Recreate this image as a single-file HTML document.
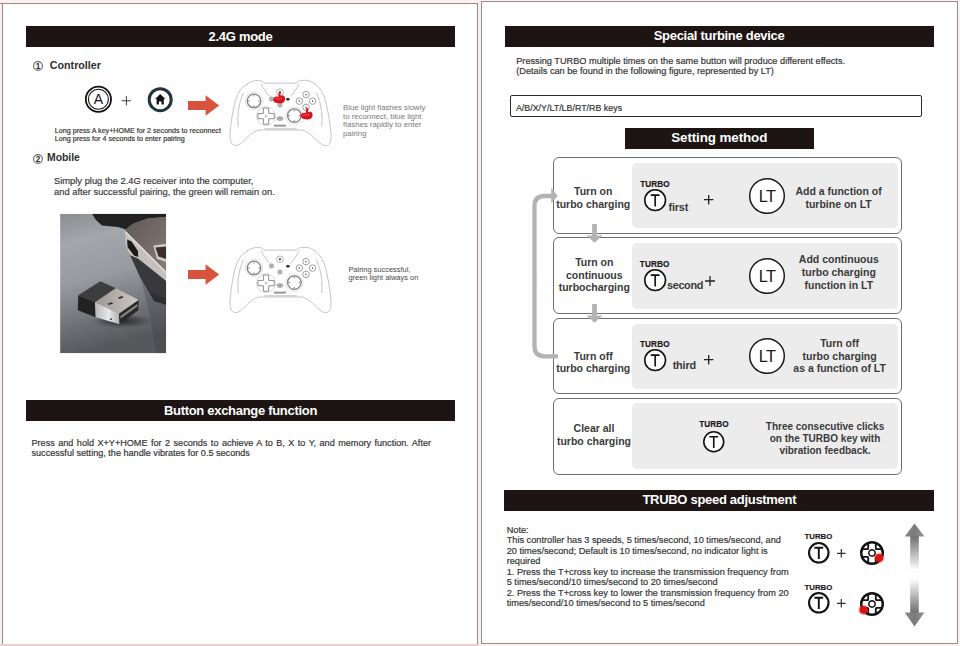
<!DOCTYPE html>
<html><head><meta charset="utf-8">
<style>
*{margin:0;padding:0;box-sizing:border-box}
html,body{width:960px;height:646px;overflow:hidden;background:#fcf0f0}
body{position:relative;font-family:"Liberation Sans",sans-serif;color:#333}
.a{position:absolute;white-space:nowrap}
.tk{-webkit-text-stroke:0.18px currentColor}
.bar{position:absolute;background:#1d1514;color:#fff;font-weight:bold;font-size:13px;letter-spacing:-0.3px;text-align:center}
.box{position:absolute;border:1.5px solid #6e6e6e;border-radius:6px;background:#fff}
.panel{position:absolute;background:#ececec;border-radius:5px}
svg{position:absolute;overflow:visible}
</style></head><body>

<div style="position:absolute;left:0;top:643.8px;width:479px;height:3px;background:#e9cdd2"></div>
<div style="position:absolute;left:0;top:2.7px;width:4px;height:1.4px;background:#978a8d"></div><div style="position:absolute;left:2.3px;top:2.65px;width:476px;height:641.7px;background:#fefefe;border:1.5px solid #978a8d;border-bottom:none"></div>
<div style="position:absolute;left:481.4px;top:1.2px;width:476.3px;height:643px;background:#fefefe;border:1.5px solid #978a8d"></div>
<div class="bar" style="left:26px;top:26px;width:429px;height:21px;line-height:21.00px;font-size:13px;letter-spacing:-0.3px">2.4G mode</div>
<svg style="left:33.4px;top:61.0px" width="10" height="10" viewBox="0 0 10 10"><circle cx="5.0" cy="5.0" r="4.4" fill="none" stroke="#6a6a6a" stroke-width="1.1"/><text x="5.0" y="7.9" font-family="Liberation Sans" font-weight="bold" font-size="8.2" text-anchor="middle" fill="#2a2a2a">1</text></svg>
<div class="a " style="left:49.80px;top:59.20px;font-size:10.7px;line-height:12.84px;color:#2e2e2e;font-weight:bold;">Controller</div>
<svg style="left:80px;top:82px" width="100" height="36" viewBox="0 0 100 36"><circle cx="18.4" cy="17.3" r="12.6" fill="none" stroke="#111" stroke-width="1.8"/><circle cx="18.4" cy="17.3" r="10.0" fill="none" stroke="#111" stroke-width="1.1"/><text x="18.4" y="22.4" font-family="Liberation Sans" font-size="14" text-anchor="middle" fill="#111">A</text><path d="M41.7 18.75h9.4M46.4 14.05v9.4" stroke="#444" stroke-width="1"/><circle cx="80.2" cy="17.7" r="11.0" fill="#fff" stroke="#22343f" stroke-width="3"/><path d="M80.2 11.9 L85.3 16.9 L83.8 16.9 L83.8 22.5 L81.5 22.5 L81.5 19.6 L78.9 19.6 L78.9 22.5 L76.6 22.5 L76.6 16.9 L75.1 16.9 Z" fill="#111"/></svg>
<svg style="left:188px;top:95.1px" width="33" height="21" viewBox="0 0 33 21"><path d="M0 6.1 H17.6 V0.3 L31.2 10.5 L17.6 20.7 V14.9 H0 Z" fill="#d9533c"/></svg>
<div class="a tk" style="left:54.80px;top:128.40px;font-size:7.15px;line-height:7.7px;color:#333;">Long press A key+HOME for 2 seconds to reconnect<br>Long press for 4 seconds to enter pairing</div>
<div class="a " style="left:343.00px;top:103.80px;font-size:7.8px;line-height:8.7px;color:#7a7a7a;">Blue light flashes slowly<br>to reconnect, blue light<br>flashes rapidly to enter<br>pairing</div>
<svg style="left:33.0px;top:153.6px" width="10" height="10" viewBox="0 0 10 10"><circle cx="5.0" cy="5.0" r="4.4" fill="none" stroke="#6a6a6a" stroke-width="1.1"/><text x="5.0" y="7.9" font-family="Liberation Sans" font-weight="bold" font-size="8.2" text-anchor="middle" fill="#2a2a2a">2</text></svg>
<div class="a " style="left:47.00px;top:152.20px;font-size:10.4px;line-height:12.48px;color:#2e2e2e;font-weight:bold;">Mobile</div>
<div class="a tk" style="left:54.00px;top:175.80px;font-size:9.35px;line-height:10.8px;color:#3a3a3a;">Simply plug the 2.4G receiver into the computer,<br>and after successful pairing, the green will remain on.</div>
<svg style="left:188px;top:264.0px" width="33" height="21" viewBox="0 0 33 21"><path d="M0 6.1 H17.6 V0.3 L31.2 10.5 L17.6 20.7 V14.9 H0 Z" fill="#d9533c"/></svg>
<div class="a " style="left:348.40px;top:265.70px;font-size:7.45px;line-height:8.2px;color:#4a4a4a;">Pairing successful,<br>green light always on</div>
<div class="bar" style="left:26px;top:400.3px;width:429px;height:20.5px;line-height:22.30px;font-size:13px;letter-spacing:-0.3px">Button exchange function</div>
<div class="a tk" style="left:31.50px;top:437.75px;font-size:9.1px;line-height:10.45px;color:#333;"><span style="display:inline-block;width:399.5px;text-align:justify;text-align-last:justify;white-space:normal">Press and hold X+Y+HOME for 2 seconds to achieve A to B, X to Y, and memory function. After</span><br>successful setting, the handle vibrates for 0.5 seconds</div>
<svg style="left:224.5px;top:73px" width="110" height="78" viewBox="0 0 911 646"><path fill="none" stroke="#b9b9b9" stroke-width="7" stroke-linejoin="round" stroke-linecap="round" d="M185 92 C205 70 240 60 290 63 C305 66 315 74 322 84 L592 84 C600 72 612 64 630 62 C670 58 705 62 732 82 C790 115 822 180 840 260 C858 340 872 430 877 500 C882 560 870 598 838 602 C810 604 780 580 748 545 C710 505 675 482 640 472 L282 472 C245 482 210 505 170 548 C140 580 112 604 82 600 C50 596 40 560 42 500 C46 430 60 340 78 260 C96 180 128 120 185 92 Z"/><path fill="none" stroke="#b9b9b9" stroke-width="7" stroke-linejoin="round" stroke-linecap="round" d="M110 440 C100 360 110 260 150 170 M800 440 C810 360 800 260 760 170" stroke="#d0d0d0"/><path fill="none" stroke="#b9b9b9" stroke-width="7" stroke-linejoin="round" stroke-linecap="round" d="M300 92 C320 130 340 165 368 192 M612 92 C592 130 572 165 544 192"/><path fill="none" stroke="#b9b9b9" stroke-width="7" stroke-linejoin="round" stroke-linecap="round" d="M330 462 L592 462" stroke="#9a9a9a"/><circle cx="240" cy="231" r="72" fill="#fff" stroke="#d6d6d6" stroke-width="6"/><circle cx="240" cy="231" r="56" fill="#fff" stroke="#858585" stroke-width="11"/><path d="M240 179v16M240 283v-16M188 231h16M292 231h-16" stroke="#858585" stroke-width="8"/><circle cx="574" cy="353" r="72" fill="#fff" stroke="#d6d6d6" stroke-width="6"/><circle cx="574" cy="353" r="56" fill="#fff" stroke="#858585" stroke-width="11"/><path d="M574 301v16M574 405v-16M522 353h16M626 353h-16" stroke="#858585" stroke-width="8"/><circle cx="340" cy="357" r="78" fill="#fff" stroke="#d2d2d2" stroke-width="7"/><path fill="none" stroke="#8a8a8a" stroke-width="8" d="M318 290 h44 v45 h45 v44 h-45 v45 h-44 v-45 h-45 v-44 h45 Z"/><circle cx="340" cy="357" r="9" fill="none" stroke="#999" stroke-width="5"/><circle cx="671" cy="179" r="27" fill="#fff" stroke="#9a9a9a" stroke-width="8"/><rect x="666" y="171" width="10" height="16" rx="3" fill="#666"/><circle cx="616" cy="233" r="27" fill="#fff" stroke="#9a9a9a" stroke-width="8"/><rect x="611" y="225" width="10" height="16" rx="3" fill="#666"/><circle cx="725" cy="233" r="27" fill="#fff" stroke="#9a9a9a" stroke-width="8"/><rect x="720" y="225" width="10" height="16" rx="3" fill="#666"/><circle cx="671" cy="285" r="27" fill="#fff" stroke="#9a9a9a" stroke-width="8"/><rect x="666" y="277" width="10" height="16" rx="3" fill="#666"/><circle cx="455" cy="160" r="28" fill="#fff" stroke="#a5a5a5" stroke-width="7"/><circle cx="455" cy="160" r="9" fill="#333"/><circle cx="385" cy="215" r="18" fill="#b5b5b5" stroke="#999" stroke-width="5"/><circle cx="455" cy="265" r="18" fill="#b5b5b5" stroke="#999" stroke-width="5"/><rect x="507" y="208" width="28" height="20" rx="8" fill="#2a2a2a"/><ellipse cx="455" cy="377" rx="25" ry="14" fill="#fff" stroke="#666" stroke-width="7"/><ellipse cx="455" cy="377" rx="12" ry="5" fill="#444"/><rect x="405" y="428" width="100" height="16" fill="#7a7a7a" opacity="0.8"/><g transform="translate(452 156) scale(0.95 0.82)"><path d="M-8 6 C-8 -4 8 -4 8 6 L9 42 C22 34 40 38 44 52 C50 62 48 80 44 92 C38 108 20 118 0 116 C-22 116 -44 108 -52 94 C-58 82 -56 64 -48 56 C-40 48 -30 46 -20 48 L-10 50 Z" fill="#d8141a"/><path d="M-40 70 C-30 66 -20 68 -12 72 M-6 58 L-4 80 M14 56 L14 80" stroke="#f5a0a0" stroke-width="5" fill="none"/></g><g transform="translate(680 290) scale(0.95 0.82)"><path d="M-8 6 C-8 -4 8 -4 8 6 L9 42 C22 34 40 38 44 52 C50 62 48 80 44 92 C38 108 20 118 0 116 C-22 116 -44 108 -52 94 C-58 82 -56 64 -48 56 C-40 48 -30 46 -20 48 L-10 50 Z" fill="#d8141a"/><path d="M-40 70 C-30 66 -20 68 -12 72 M-6 58 L-4 80 M14 56 L14 80" stroke="#f5a0a0" stroke-width="5" fill="none"/></g></svg>
<svg style="left:225px;top:240px" width="110" height="78" viewBox="0 0 911 646"><path fill="none" stroke="#b9b9b9" stroke-width="7" stroke-linejoin="round" stroke-linecap="round" d="M185 92 C205 70 240 60 290 63 C305 66 315 74 322 84 L592 84 C600 72 612 64 630 62 C670 58 705 62 732 82 C790 115 822 180 840 260 C858 340 872 430 877 500 C882 560 870 598 838 602 C810 604 780 580 748 545 C710 505 675 482 640 472 L282 472 C245 482 210 505 170 548 C140 580 112 604 82 600 C50 596 40 560 42 500 C46 430 60 340 78 260 C96 180 128 120 185 92 Z"/><path fill="none" stroke="#b9b9b9" stroke-width="7" stroke-linejoin="round" stroke-linecap="round" d="M110 440 C100 360 110 260 150 170 M800 440 C810 360 800 260 760 170" stroke="#d0d0d0"/><path fill="none" stroke="#b9b9b9" stroke-width="7" stroke-linejoin="round" stroke-linecap="round" d="M300 92 C320 130 340 165 368 192 M612 92 C592 130 572 165 544 192"/><path fill="none" stroke="#b9b9b9" stroke-width="7" stroke-linejoin="round" stroke-linecap="round" d="M330 462 L592 462" stroke="#9a9a9a"/><circle cx="240" cy="231" r="72" fill="#fff" stroke="#d6d6d6" stroke-width="6"/><circle cx="240" cy="231" r="56" fill="#fff" stroke="#858585" stroke-width="11"/><path d="M240 179v16M240 283v-16M188 231h16M292 231h-16" stroke="#858585" stroke-width="8"/><circle cx="574" cy="353" r="72" fill="#fff" stroke="#d6d6d6" stroke-width="6"/><circle cx="574" cy="353" r="56" fill="#fff" stroke="#858585" stroke-width="11"/><path d="M574 301v16M574 405v-16M522 353h16M626 353h-16" stroke="#858585" stroke-width="8"/><circle cx="340" cy="357" r="78" fill="#fff" stroke="#d2d2d2" stroke-width="7"/><path fill="none" stroke="#8a8a8a" stroke-width="8" d="M318 290 h44 v45 h45 v44 h-45 v45 h-44 v-45 h-45 v-44 h45 Z"/><circle cx="340" cy="357" r="9" fill="none" stroke="#999" stroke-width="5"/><circle cx="671" cy="179" r="27" fill="#fff" stroke="#9a9a9a" stroke-width="8"/><rect x="666" y="171" width="10" height="16" rx="3" fill="#666"/><circle cx="616" cy="233" r="27" fill="#fff" stroke="#9a9a9a" stroke-width="8"/><rect x="611" y="225" width="10" height="16" rx="3" fill="#666"/><circle cx="725" cy="233" r="27" fill="#fff" stroke="#9a9a9a" stroke-width="8"/><rect x="720" y="225" width="10" height="16" rx="3" fill="#666"/><circle cx="671" cy="285" r="27" fill="#fff" stroke="#9a9a9a" stroke-width="8"/><rect x="666" y="277" width="10" height="16" rx="3" fill="#666"/><circle cx="455" cy="160" r="28" fill="#fff" stroke="#a5a5a5" stroke-width="7"/><circle cx="455" cy="160" r="9" fill="#333"/><circle cx="385" cy="215" r="18" fill="#b5b5b5" stroke="#999" stroke-width="5"/><circle cx="455" cy="265" r="18" fill="#b5b5b5" stroke="#999" stroke-width="5"/><rect x="507" y="208" width="28" height="20" rx="8" fill="#2a2a2a"/><ellipse cx="455" cy="377" rx="25" ry="14" fill="#fff" stroke="#666" stroke-width="7"/><ellipse cx="455" cy="377" rx="12" ry="5" fill="#444"/><rect x="405" y="428" width="100" height="16" fill="#7a7a7a" opacity="0.8"/></svg>
<svg style="left:50px;top:205px" width="125" height="155" viewBox="0 0 125 155"><defs><clipPath id="pc"><rect x="10.1" y="8.8" width="106.1" height="139.5"/></clipPath><linearGradient id="pbg" x1="0" y1="0" x2="0.2" y2="1"><stop offset="0" stop-color="#8a8d91"/><stop offset="0.22" stop-color="#a3a6aa"/><stop offset="0.5" stop-color="#979a9e"/><stop offset="0.78" stop-color="#707377"/><stop offset="1" stop-color="#56585c"/></linearGradient><linearGradient id="rdk" x1="0" y1="0" x2="1" y2="0"><stop offset="0" stop-color="#2c2d30" stop-opacity="0"/><stop offset="0.5" stop-color="#2c2d30" stop-opacity="0.75"/><stop offset="1" stop-color="#26272a" stop-opacity="0.95"/></linearGradient><radialGradient id="shd" cx="0.5" cy="0.5" r="0.5"><stop offset="0" stop-color="#1c1c1e" stop-opacity="0.85"/><stop offset="1" stop-color="#1c1c1e" stop-opacity="0"/></radialGradient><linearGradient id="met" x1="0" y1="0" x2="1" y2="0"><stop offset="0" stop-color="#9a9693"/><stop offset="1" stop-color="#cfcac6"/></linearGradient><linearGradient id="mside" x1="0" y1="0" x2="1" y2="0"><stop offset="0" stop-color="#b8b8b8"/><stop offset="0.55" stop-color="#e8e8e8"/><stop offset="1" stop-color="#b0b0b0"/></linearGradient><linearGradient id="lap" x1="0" y1="0" x2="1" y2="1"><stop offset="0" stop-color="#5f5855"/><stop offset="1" stop-color="#857c78"/></linearGradient><filter id="pbl" x="-5%" y="-5%" width="110%" height="110%"><feGaussianBlur stdDeviation="0.45"/></filter></defs><g clip-path="url(#pc)"><g filter="url(#pbl)"><rect x="10.1" y="8.8" width="106.1" height="139.5" fill="url(#pbg)"/><path d="M90 70 L116.2 90 V148.3 H106 L100 110 Z" fill="#3c3e42" opacity="0.3"/><path d="M82 53 L116.2 78 V100 L104 96 L92 75 Z" fill="#2d2e31"/><path d="M42 8.8 H116.2 V12 L98 13.5 L84 18.5 L76 24.5 L68 22 L52 20.5 L46 15 Z" fill="#202022"/><path d="M74.8 25.1 L81.7 19.3 L98 13.5 L116.2 11.8 V67 Z" fill="url(#lap)"/><path d="M80 50 L90 54 L116.2 76 V94 L101 88 L90 72 Z" fill="#38393c"/><path d="M75 25.6 L116.2 66.5 V76 L88 53.5 L80 50 L75.5 40 Z" fill="#c4c0bc"/><path d="M75 25.6 L116.2 66.5 V68.5 L75.2 28 Z" fill="#e0dcd8"/><path d="M77.2 34.5 L81.5 36.5 L88 46 L88.2 52 L84 50.5 L77.5 42 Z" fill="#1a1a1a"/><path d="M103.3 40.5 L116.2 38.8 V57 L107 54 Z" fill="#cfc9c4"/><path d="M105.5 42.5 L116.2 41.5 V54 L108.5 51.5 Z" fill="#3a2d2a"/><ellipse cx="72" cy="116" rx="30" ry="7" fill="url(#shd)"/><path d="M28.3 90.2 L50.3 76.3 L65.9 83.2 L45 97.2 Z" fill="#3d3e40"/><path d="M28.3 90.2 L45 97.2 L45.7 112.3 L27.8 105.3 Z" fill="#202123"/><path d="M45 97.2 L65.9 83.2 L88.7 94.9 L69 108.8 Z" fill="url(#met)"/><path d="M45 97.2 L69 108.8 L69.7 119.3 L45.7 112.3 Z" fill="url(#mside)"/><path d="M69 108.8 L88.7 94.9 L88.3 105.3 L69.7 119.3 Z" fill="#2b2b2b"/><path d="M70.5 111 L87.5 99 L87.3 101.5 L70.6 113.5 Z" fill="#8a8a8a"/><path d="M57.6 98.8 l4.2 -1.6 l1.4 1.3 l-4.2 1.6 Z M68 92.6 l4.2 -1.6 l1.4 1.3 l-4.2 1.6 Z" fill="#3a2c22"/><rect x="60" y="113.5" width="2" height="1.4" fill="#444"/></g></g></svg>
<div class="bar" style="left:504.5px;top:26.3px;width:429.2px;height:20.9px;line-height:20.90px;font-size:13px;letter-spacing:-0.3px">Special turbine device</div>
<div class="a tk" style="left:516.20px;top:55.50px;font-size:9.2px;line-height:10.8px;color:#333;">Pressing TURBO multiple times on the same button will produce different effects.<br>(Details can be found in the following figure, represented by LT)</div>
<div class="a" style="left:509.6px;top:94.7px;width:412.6px;height:22.4px;border:1.5px solid #2a2a2a;border-radius:2px"></div>
<div class="a tk" style="left:515.90px;top:102.60px;font-size:8.9px;line-height:10.68px;color:#333;">A/B/X/Y/LT/LB/RT/RB keys</div>
<div class="bar" style="left:624.5px;top:128.3px;width:189.5px;height:20.4px;line-height:19.20px;font-size:13.4px;letter-spacing:-0.1px">Setting method</div>
<div class="box" style="left:552.9px;top:157.25px;width:349.4px;height:76.69999999999999px"></div>
<div class="panel" style="left:631.5px;top:163.2px;width:266px;height:65.20000000000002px"></div>
<div class="box" style="left:552.9px;top:237.25px;width:349.4px;height:76.5px"></div>
<div class="panel" style="left:631.5px;top:242.6px;width:266px;height:66.20000000000002px"></div>
<div class="box" style="left:552.9px;top:317.85px;width:349.4px;height:75.89999999999998px"></div>
<div class="panel" style="left:631.5px;top:323.5px;width:266px;height:65.10000000000002px"></div>
<div class="box" style="left:552.9px;top:398.05px;width:349.4px;height:76.5px"></div>
<div class="panel" style="left:631.5px;top:402.5px;width:266px;height:66.0px"></div>
<svg style="left:520px;top:150px" width="100" height="220" viewBox="0 0 100 220"><path d="M38 206.3 H24.5 Q14.5 206.3 14.5 196.3 V56 Q14.5 46 24.5 46 H32" fill="none" stroke="#b3b3b3" stroke-width="4.3"/><path d="M31.2 37.8 L37.8 46 L31.2 53.2 Z" fill="#b3b3b3"/><path d="M72.1 74 h4.8 v11.5 h5.6 l-8 7.2 l-8 -7.2 h5.6 Z" fill="#b3b3b3"/><path d="M72.1 154 h4.8 v11.5 h5.6 l-8 7.2 l-8 -7.2 h5.6 Z" fill="#b3b3b3"/></svg>
<div class="a " style="left:548.20px;top:184.90px;font-size:10.5px;line-height:12.7px;color:#3a3a3a;font-weight:bold;width:90px;text-align:center;">Turn on<br>turbo charging</div>
<div class="a " style="left:549.30px;top:256.30px;font-size:10.5px;line-height:12.45px;color:#3a3a3a;font-weight:bold;width:90px;text-align:center;">Turn on<br>continuous<br>turbocharging</div>
<div class="a " style="left:548.20px;top:351.10px;font-size:10.5px;line-height:11.9px;color:#3a3a3a;font-weight:bold;width:90px;text-align:center;">Turn off<br>turbo charging</div>
<div class="a " style="left:549.00px;top:422.20px;font-size:10.5px;line-height:13.1px;color:#3a3a3a;font-weight:bold;width:90px;text-align:center;">Clear all<br>turbo charging</div>
<div class="a " style="left:778.60px;top:184.80px;font-size:10.5px;line-height:12.8px;color:#3a3a3a;font-weight:bold;width:120px;text-align:center;">Add a function of<br>turbine on LT</div>
<div class="a " style="left:778.80px;top:253.20px;font-size:10.5px;line-height:12.75px;color:#3a3a3a;font-weight:bold;width:120px;text-align:center;">Add continuous<br>turbo charging<br>function in LT</div>
<div class="a " style="left:779.60px;top:337.10px;font-size:10.5px;line-height:12.45px;color:#3a3a3a;font-weight:bold;width:120px;text-align:center;">Turn off<br>turbo charging<br>as a function of LT</div>
<div class="a " style="left:755.00px;top:420.80px;font-size:10.0px;line-height:12.0px;color:#3a3a3a;font-weight:bold;width:140px;text-align:center;">Three consecutive clicks<br>on the TURBO key with<br>vibration feedback.</div>
<div class="a tk" style="left:640.20px;top:179.50px;font-size:8.2px;line-height:9.84px;color:#1a1a1a;font-weight:bold;letter-spacing:0.1px;">TURBO</div>
<svg style="left:641.85px;top:187.35px" width="26.3" height="26.3" viewBox="0 0 26.3 26.3"><circle cx="13.15" cy="13.15" r="10.35" fill="#fff" stroke="#111" stroke-width="1.6"/><path d="M8.75 8.15 h8.8 M13.15 8.15 v11.3" stroke="#111" stroke-width="1.6" fill="none"/></svg>
<div class="a " style="left:668.50px;top:200.80px;font-size:10.9px;line-height:13.08px;color:#3a3a3a;font-weight:bold;letter-spacing:-0.2px;">first</div>
<svg style="left:704.3px;top:195.10000000000002px" width="9.4" height="9.4" viewBox="0 0 9.4 9.4"><path d="M0 4.7H9.4M4.7 0V9.4" stroke="#222" stroke-width="1.3"/></svg>
<svg style="left:747.9px;top:176.7px" width="38" height="38" viewBox="0 0 38 38"><circle cx="19" cy="19" r="17.3" fill="#fff" stroke="#1a1a1a" stroke-width="1.5"/><text x="19" y="25" font-family="Liberation Sans" font-size="16.4" text-anchor="middle" fill="#1a1a1a" letter-spacing="-0.6">LT</text></svg>
<div class="a tk" style="left:639.80px;top:260.30px;font-size:8.2px;line-height:9.84px;color:#1a1a1a;font-weight:bold;letter-spacing:0.1px;">TURBO</div>
<svg style="left:641.75px;top:267.35px" width="26.3" height="26.3" viewBox="0 0 26.3 26.3"><circle cx="13.15" cy="13.15" r="10.35" fill="#fff" stroke="#111" stroke-width="1.6"/><path d="M8.75 8.15 h8.8 M13.15 8.15 v11.3" stroke="#111" stroke-width="1.6" fill="none"/></svg>
<div class="a " style="left:667.00px;top:278.50px;font-size:10.9px;line-height:13.08px;color:#3a3a3a;font-weight:bold;letter-spacing:-0.35px;">second</div>
<svg style="left:704.5px;top:275.5px" width="10" height="10" viewBox="0 0 10 10"><path d="M0 5.0H10M5.0 0V10" stroke="#222" stroke-width="1.3"/></svg>
<svg style="left:748.1px;top:256.6px" width="38" height="38" viewBox="0 0 38 38"><circle cx="19" cy="19" r="17.3" fill="#fff" stroke="#1a1a1a" stroke-width="1.5"/><text x="19" y="25" font-family="Liberation Sans" font-size="16.4" text-anchor="middle" fill="#1a1a1a" letter-spacing="-0.6">LT</text></svg>
<div class="a tk" style="left:640.00px;top:340.00px;font-size:8.2px;line-height:9.84px;color:#1a1a1a;font-weight:bold;letter-spacing:0.1px;">TURBO</div>
<svg style="left:641.85px;top:346.95000000000005px" width="26.3" height="26.3" viewBox="0 0 26.3 26.3"><circle cx="13.15" cy="13.15" r="10.35" fill="#fff" stroke="#111" stroke-width="1.6"/><path d="M8.75 8.15 h8.8 M13.15 8.15 v11.3" stroke="#111" stroke-width="1.6" fill="none"/></svg>
<div class="a " style="left:672.70px;top:358.90px;font-size:10.9px;line-height:13.08px;color:#3a3a3a;font-weight:bold;letter-spacing:-0.2px;">third</div>
<svg style="left:704.4px;top:355.40000000000003px" width="9.4" height="9.4" viewBox="0 0 9.4 9.4"><path d="M0 4.7H9.4M4.7 0V9.4" stroke="#222" stroke-width="1.3"/></svg>
<svg style="left:748.0px;top:337.0px" width="38" height="38" viewBox="0 0 38 38"><circle cx="19" cy="19" r="17.3" fill="#fff" stroke="#1a1a1a" stroke-width="1.5"/><text x="19" y="25" font-family="Liberation Sans" font-size="16.4" text-anchor="middle" fill="#1a1a1a" letter-spacing="-0.6">LT</text></svg>
<div class="a tk" style="left:699.20px;top:420.00px;font-size:8.2px;line-height:9.84px;color:#1a1a1a;font-weight:bold;letter-spacing:0.1px;">TURBO</div>
<svg style="left:701.35px;top:428.55px" width="25.5" height="25.5" viewBox="0 0 25.5 25.5"><circle cx="12.75" cy="12.75" r="9.95" fill="#fff" stroke="#111" stroke-width="1.6"/><path d="M8.35 7.75 h8.8 M12.75 7.75 v11.3" stroke="#111" stroke-width="1.6" fill="none"/></svg>
<div class="bar" style="left:504.4px;top:490.4px;width:429.9px;height:20.7px;line-height:19.70px;font-size:13px;letter-spacing:-0.3px">TRUBO speed adjustment</div>
<div class="a tk" style="left:506.70px;top:524.60px;font-size:9.2px;line-height:10.55px;color:#333;">Note:<br>This controller has 3 speeds, 5 times/second, 10 times/second, and<br>20 times/second; Default is 10 times/second, no indicator light is<br>required<br>1. Press the T+cross key to increase the transmission frequency from<br>5 times/second/10 times/second to 20 times/second<br>2. Press the T+cross key to lower the transmission frequency from 20<br>times/second/10 times/second to 5 times/second</div>
<div class="a tk" style="left:804.40px;top:531.90px;font-size:7.8px;line-height:9.36px;color:#1a1a1a;font-weight:bold;letter-spacing:0.05px;">TURBO</div>
<svg style="left:805.7px;top:539.5px" width="25.6" height="25.6" viewBox="0 0 25.6 25.6"><circle cx="12.8" cy="12.8" r="9.75" fill="#fff" stroke="#111" stroke-width="2.1"/><path d="M8.4 7.800000000000001 h8.8 M12.8 7.800000000000001 v11.3" stroke="#111" stroke-width="1.9" fill="none"/></svg>
<svg style="left:836.7px;top:549.4000000000001px" width="8.6" height="8.6" viewBox="0 0 8.6 8.6"><path d="M0 4.3H8.6M4.3 0V8.6" stroke="#333" stroke-width="1.2"/></svg>
<svg style="left:857.5px;top:539.0px" width="28" height="28" viewBox="-14 -14 28 28"><circle r="10.8" fill="#fff" stroke="#111" stroke-width="2.4"/><path d="M3.8 9.2 V4.6 Q3.8 3.8 4.6 3.8 H9.2 M-3.8 9.2 V4.6 Q-3.8 3.8 -4.6 3.8 H-9.2 M3.8 -9.2 V-4.6 Q3.8 -3.8 4.6 -3.8 H9.2 M-3.8 -9.2 V-4.6 Q-3.8 -3.8 -4.6 -3.8 H-9.2" fill="none" stroke="#111" stroke-width="1.8"/><circle r="3.2" fill="#fff" stroke="#111" stroke-width="1.5"/><circle cx="7.2" cy="4.8" r="3.9" fill="#e01010"/><circle cx="7.2" cy="4.8" r="5.4" fill="#e01010" opacity="0.3"/></svg>
<div class="a tk" style="left:804.40px;top:582.50px;font-size:7.8px;line-height:9.36px;color:#1a1a1a;font-weight:bold;letter-spacing:0.05px;">TURBO</div>
<svg style="left:805.7px;top:589.8000000000001px" width="25.6" height="25.6" viewBox="0 0 25.6 25.6"><circle cx="12.8" cy="12.8" r="9.75" fill="#fff" stroke="#111" stroke-width="2.1"/><path d="M8.4 7.800000000000001 h8.8 M12.8 7.800000000000001 v11.3" stroke="#111" stroke-width="1.9" fill="none"/></svg>
<svg style="left:836.7px;top:599.2px" width="8.6" height="8.6" viewBox="0 0 8.6 8.6"><path d="M0 4.3H8.6M4.3 0V8.6" stroke="#333" stroke-width="1.2"/></svg>
<svg style="left:857.7px;top:589.5px" width="28" height="28" viewBox="-14 -14 28 28"><circle r="10.8" fill="#fff" stroke="#111" stroke-width="2.4"/><path d="M3.8 9.2 V4.6 Q3.8 3.8 4.6 3.8 H9.2 M-3.8 9.2 V4.6 Q-3.8 3.8 -4.6 3.8 H-9.2 M3.8 -9.2 V-4.6 Q3.8 -3.8 4.6 -3.8 H9.2 M-3.8 -9.2 V-4.6 Q-3.8 -3.8 -4.6 -3.8 H-9.2" fill="none" stroke="#111" stroke-width="1.8"/><circle r="3.2" fill="#fff" stroke="#111" stroke-width="1.5"/><circle cx="-8.5" cy="5.8" r="3.9" fill="#e01010"/><circle cx="-8.5" cy="5.8" r="5.4" fill="#e01010" opacity="0.3"/></svg>
<svg style="left:900px;top:520px" width="30" height="110" viewBox="0 0 30 110"><defs><linearGradient id="ua" x1="0" y1="0" x2="0" y2="1"><stop offset="0" stop-color="#6e6e6e"/><stop offset="1" stop-color="#6e6e6e" stop-opacity="0"/></linearGradient><linearGradient id="da" x1="0" y1="0" x2="0" y2="1"><stop offset="0" stop-color="#6e6e6e" stop-opacity="0"/><stop offset="1" stop-color="#6e6e6e"/></linearGradient><linearGradient id="hd" x1="0" y1="0" x2="1" y2="0"><stop offset="0" stop-color="#8a8a8a"/><stop offset="0.5" stop-color="#7a7a7a"/><stop offset="1" stop-color="#929292"/></linearGradient></defs><rect x="10.2" y="16" width="8.6" height="34" fill="url(#ua)"/><rect x="10.2" y="59" width="8.6" height="34" fill="url(#da)"/><path d="M14.5 3.4 L24.4 16.4 H4.7 Z" fill="url(#hd)"/><path d="M14.5 106.5 L24.4 92.6 H4.7 Z" fill="url(#hd)"/></svg>
</body></html>
